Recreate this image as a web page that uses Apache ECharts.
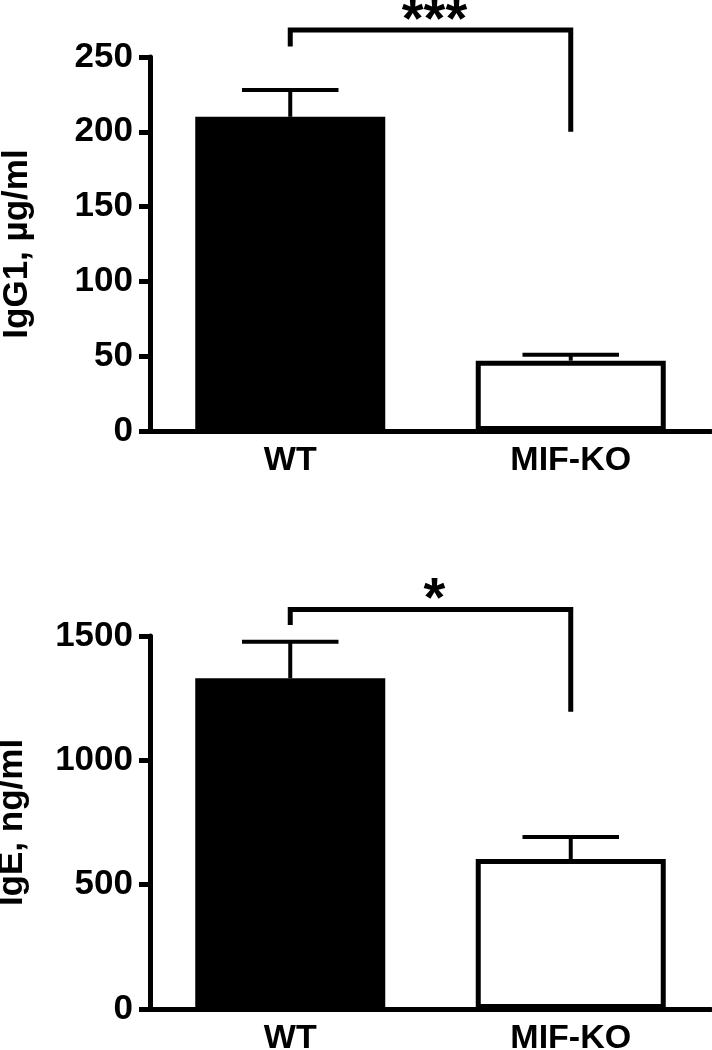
<!DOCTYPE html>
<html>
<head>
<meta charset="utf-8">
<script src="https://cdn.jsdelivr.net/npm/echarts@6/dist/echarts.min.js"></script>
<style>
html,body{margin:0;padding:0;background:#fff;}
#chart{width:712px;height:1050px;}
</style>
</head>
<body>
<div id="chart"></div>
<script>
// ---- data ----
const categories = ['WT', 'MIF-KO'];
const igg1Mean = [210, 47];
const igg1Upper = [228, 51];
const igeMean = [1330, 603];
const igeUpper = [1477, 692];
const igg1Axis = { min: 0, max: 250, interval: 50 };
const igeAxis = { min: 0, max: 1500, interval: 500 };
// bracket: [left leg end, bar top, right leg end]
const igg1Bracket = [257, 268, 200];
const igeBracket = [1544, 1607, 1195];
const igg1Sig = '***';
const igeSig = '*';
const igg1Name = 'IgG1, µg/ml';
const igeName = 'IgE, ng/ml';

const FONT = '"Liberation Sans", Arial, Helvetica, sans-serif';

const chart = echarts.init(document.getElementById('chart'), null, { renderer: 'canvas' });

function yAxisCfg(gi, ax, name, gap) {
  return {
    type: 'value', gridIndex: gi, min: ax.min, max: ax.max, interval: ax.interval,
    name: name, nameLocation: 'middle', nameGap: gap,
    nameTextStyle: { fontFamily: FONT, fontWeight: 'bold', fontSize: 35, color: '#000' },
    axisLine: { show: true, lineStyle: { color: '#000', width: 5 } },
    axisTick: { show: true, length: 11, lineStyle: { color: '#000', width: 5 } },
    axisLabel: { fontFamily: FONT, fontWeight: 'bold', fontSize: 35, color: '#000', margin: 17,
      formatter: function (v) { return String(v); } },
    splitLine: { show: false }
  };
}
function xAxisCfg(gi) {
  return {
    type: 'category', gridIndex: gi, data: categories,
    axisLine: { show: true, lineStyle: { color: '#000', width: 5 } },
    axisTick: { show: false },
    axisLabel: { fontFamily: FONT, fontWeight: 'bold', fontSize: 34, color: '#000', margin: 13 },
    splitLine: { show: false }
  };
}
function barSeries(gi, means) {
  return {
    type: 'bar', xAxisIndex: gi, yAxisIndex: gi, barWidth: 190, z: 2,
    data: means.map((v, i) => ({
      value: v,
      itemStyle: i === 0
        ? { color: '#000', borderColor: '#000', borderWidth: 5 }
        : { color: '#fff', borderColor: '#000', borderWidth: 5 }
    }))
  };
}
function errSeries(gi, means, uppers) {
  return {
    type: 'custom', xAxisIndex: gi, yAxisIndex: gi, z: 3, clip: false,
    data: means.map((m, i) => [i, m, uppers[i]]),
    renderItem: function (params, api) {
      const p0 = api.coord([api.value(0), api.value(1)]);
      const p1 = api.coord([api.value(0), api.value(2)]);
      const half = api.size([1, 0])[0] * 0.172;
      return {
        type: 'group', children: [
          { type: 'line', shape: { x1: p0[0], y1: p0[1], x2: p1[0], y2: p1[1] }, style: { stroke: '#000', lineWidth: 4 } },
          { type: 'line', shape: { x1: p1[0] - half, y1: p1[1], x2: p1[0] + half, y2: p1[1] }, style: { stroke: '#000', lineWidth: 4 } }
        ]
      };
    }
  };
}
function bracketSeries(gi, br, sig) {
  return {
    type: 'custom', xAxisIndex: gi, yAxisIndex: gi, z: 3, clip: false,
    data: [[0, 1, br[0], br[1], br[2]]],
    renderItem: function (params, api) {
      const a = api.coord([api.value(0), api.value(2)]);
      const b = api.coord([api.value(0), api.value(3)]);
      const c = api.coord([api.value(1), api.value(3)]);
      const d = api.coord([api.value(1), api.value(4)]);
      return {
        type: 'group', children: [
          { type: 'polyline', shape: { points: [a, b, c, d] }, style: { stroke: '#000', lineWidth: 5, fill: null, lineJoin: 'miter' } },
          { type: 'text', style: { text: sig, x: (b[0] + c[0]) / 2 + 4, y: b[1] - 9, align: 'center', verticalAlign: 'middle',
              font: 'bold 56px ' + FONT, fill: '#000' } }
        ]
      };
    }
  };
}

chart.setOption({
  animation: false,
  backgroundColor: '#fff',
  grid: [
    { left: 150, right: 1, top: 57, height: 374, outerBoundsMode: 'none', containLabel: false },
    { left: 150, right: 1, top: 636, height: 373, outerBoundsMode: 'none', containLabel: false }
  ],
  xAxis: [xAxisCfg(0), xAxisCfg(1)],
  yAxis: [yAxisCfg(0, igg1Axis, igg1Name, 115), yAxisCfg(1, igeAxis, igeName, 120)],
  series: [
    barSeries(0, igg1Mean), errSeries(0, igg1Mean, igg1Upper), bracketSeries(0, igg1Bracket, igg1Sig),
    barSeries(1, igeMean), errSeries(1, igeMean, igeUpper), bracketSeries(1, igeBracket, igeSig)
  ]
});
</script>
</body>
</html>
